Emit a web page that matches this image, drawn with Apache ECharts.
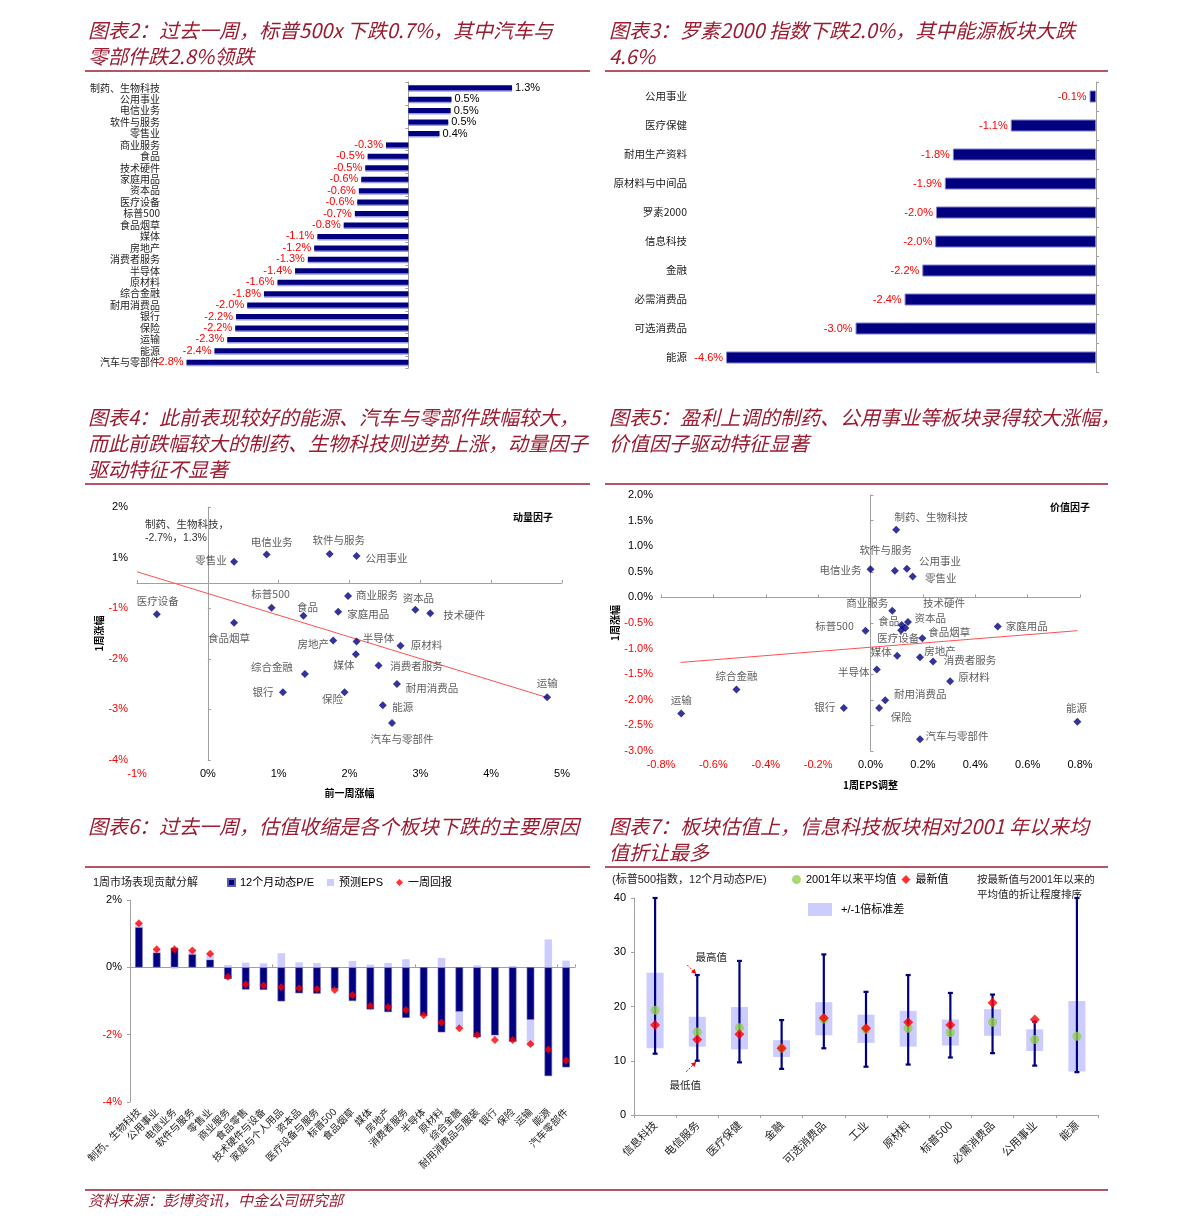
<!DOCTYPE html>
<html><head><meta charset="utf-8">
<script src="https://cdn.jsdelivr.net/npm/echarts@6/dist/echarts.min.js"></script>
<style>html,body{margin:0;padding:0;background:#fff;}#c{width:1191px;height:1231px;}</style>
</head><body><div id="c"></div>
<script>
// ---------- Chart 2 data ----------
const c2Cats = ['制药、生物科技','公用事业','电信业务','软件与服务','零售业','商业服务','食品','技术硬件','家庭用品','资本品','医疗设备','标普500','食品烟草','媒体','房地产','消费者服务','半导体','原材料','综合金融','耐用消费品','银行','保险','运输','能源','汽车与零部件'];
const c2Vals = [1.30,0.54,0.53,0.50,0.39,-0.28,-0.51,-0.54,-0.59,-0.62,-0.64,-0.67,-0.81,-1.14,-1.18,-1.26,-1.42,-1.64,-1.81,-2.02,-2.16,-2.17,-2.27,-2.43,-2.78];
// ---------- Chart 3 data ----------
const c3Cats = ['公用事业','医疗保健','耐用生产资料','原材料与中间品','罗素2000','信息科技','金融','必需消费品','可选消费品','能源'];
const c3Vals = [-0.08,-1.06,-1.78,-1.88,-1.99,-2.00,-2.16,-2.38,-2.99,-4.60];
// ---------- Chart 4 data (momentum) ----------
const c4Names = ['零售业','电信业务','软件与服务','公用事业','医疗设备','食品烟草','标普500','商业服务','食品','家庭用品','资本品','技术硬件','房地产','半导体','原材料','媒体','消费者服务','综合金融','耐用消费品','银行','保险','能源','汽车与零部件','运输'];
const c4X = [0.37,0.83,1.72,2.10,-0.72,0.37,0.90,1.98,1.35,1.84,2.93,3.14,1.77,2.10,2.72,2.09,2.41,1.37,2.67,1.06,1.93,2.47,2.60,4.79];
const c4Y = [0.42,0.56,0.57,0.53,-0.62,-0.79,-0.49,-0.26,-0.65,-0.57,-0.53,-0.60,-1.14,-1.16,-1.24,-1.41,-1.63,-1.80,-2.00,-2.16,-2.16,-2.42,-2.77,-2.26];
const c4Trend = [[-1,0.22],[4.8,-2.27]];
// label placement (layout only)
const c4LabelOff = [[-23,-2],[5,-13],[9,-14],[30,2],[1,-13],[-5,15],[-1,-14],[29,-1],[4,-9],[30,2],[3,-12],[34,2],[-20,3],[22,-4],[26,-1],[-12,11],[38,1],[-33,-7],[35,4],[-20,0],[-12,7],[20,2],[10,16],[0,-14]];
// ---------- Chart 5 data (value) ----------
const c5Names = ['制药、生物科技','电信业务','软件与服务','公用事业','零售业','商业服务','技术硬件','食品','资本品','医疗设备','标普500','家庭用品','食品烟草','媒体','房地产','消费者服务','半导体','原材料','综合金融','运输','耐用消费品','银行','保险','汽车与零部件','能源'];
const c5X = [0.098,0.000,0.093,0.139,0.161,0.083,0.143,0.119,0.133,0.117,-0.019,0.486,0.198,0.102,0.189,0.239,0.024,0.304,-0.512,-0.723,0.056,-0.102,0.033,0.189,0.790];
const c5Y = [1.32,0.55,0.52,0.56,0.41,-0.26,-0.48,-0.54,-0.60,-0.64,-0.65,-0.57,-0.80,-1.14,-1.17,-1.25,-1.41,-1.64,-1.80,-2.27,-2.01,-2.16,-2.16,-2.77,-2.43];
const c5Trend = [[-0.725,-1.27],[0.79,-0.65]];
const c5LabelOff = [[35,-13],[-30,1],[-9,-21],[33,-8],[28,2],[-25,-8],[36,-19],[-13,-4],[25,-10],[-3,8],[-31,-5],[29,-1],[27,-6],[-16,-4],[20,-6],[37,-1],[-23,2],[24,-4],[0,-14],[0,-14],[35,-6],[-19,-1],[22,9],[37,-3],[-1,-14]];
// ---------- Chart 6 data ----------
const c6Cats = ['制药、生物科技','公用事业','电信业务','软件与服务','零售业','商业服务','食品零售','技术硬件与设备','家庭与个人用品','资本品','医疗设备与服务','标普500','食品烟草','媒体','房地产','消费者服务','半导体','原材料','综合金融','耐用消费品与服装','银行','保险','运输','能源','汽车零部件'];
const c6PE  = [1.19,0.44,0.58,0.39,0.23,-0.35,-0.66,-0.67,-1.01,-0.77,-0.78,-0.64,-1.00,-1.25,-1.33,-1.50,-1.44,-1.93,-1.32,-2.08,-2.02,-2.21,-1.56,-3.23,-2.97];
const c6EPS = [0.12,0.11,-0.04,0.13,0.19,0.07,0.14,0.12,0.42,0.15,0.13,-0.03,0.19,0.08,0.13,0.24,0.00,0.28,-0.49,0.06,-0.04,0.04,-0.78,0.83,0.20];
const c6Ret = [1.31,0.54,0.54,0.50,0.40,-0.28,-0.50,-0.54,-0.59,-0.62,-0.64,-0.67,-0.82,-1.15,-1.18,-1.27,-1.42,-1.64,-1.81,-2.01,-2.16,-2.16,-2.28,-2.44,-2.77];
// ---------- Chart 7 data ----------
const c7Cats = ['信息科技','电信服务','医疗保健','金融','可选消费品','工业','原材料','标普500','必需消费品','公用事业','能源'];
const c7Max    = [40,25.8,28.4,17.5,29.6,22.7,25.8,22.5,22.2,17.2,40];
const c7Min    = [11.3,10.0,9.7,8.5,12.3,8.9,9.3,10.6,11.4,9.1,7.9];
const c7SdHigh = [26.2,18.1,19.9,13.8,20.8,18.5,19.2,17.6,19.5,15.8,21.0];
const c7SdLow  = [12.3,12.6,12.1,10.7,14.7,13.3,12.6,12.8,14.6,11.8,8.0];
const c7Mean   = [19.3,15.3,16.1,12.3,17.7,15.8,16.0,15.2,17.1,13.9,14.5];
const c7Latest = [16.6,13.9,14.9,12.3,17.9,16.0,17.1,16.6,20.7,17.6,null];

const titles = [
  {text:'图表2：过去一周，标普500x 下跌0.7%，其中汽车与\n零部件跌2.8%领跌', left:88, top:17},
  {text:'图表3：罗素2000 指数下跌2.0%，其中能源板块大跌\n4.6%', left:609, top:17},
  {text:'图表4：此前表现较好的能源、汽车与零部件跌幅较大，\n而此前跌幅较大的制药、生物科技则逆势上涨，动量因子\n驱动特征不显著', left:88, top:404},
  {text:'图表5：盈利上调的制药、公用事业等板块录得较大涨幅，\n价值因子驱动特征显著', left:609, top:404},
  {text:'图表6：过去一周，估值收缩是各个板块下跌的主要原因', left:88, top:813},
  {text:'图表7：板块估值上，信息科技板块相对2001 年以来均\n值折让最多', left:609, top:813}
];
const sourceText = '资料来源：彭博资讯，中金公司研究部';

// ---------- styles ----------
const FONT = "'Liberation Sans', Arial, 'Noto Sans CJK SC', sans-serif";
const CJK = "'Noto Sans CJK SC', sans-serif";
const RED = '#ff0000', NAVY = '#000080', AX = '#a0a0a0', TITLE = '#9B1B30';
const negRed = v => (parseFloat(v) < 0 ? RED : '#000');

const chart = echarts.init(document.getElementById('c'));

const titleOpts = titles.map(t => ({
  text: t.text, left: t.left, top: t.top, padding: 0,
  textStyle: {fontFamily: CJK, fontStyle: 'italic', fontWeight: 'normal', fontSize: 20, color: TITLE, lineHeight: 26}
}));
titleOpts.push({text: sourceText, left: 88, top: 1193, padding: 0,
  textStyle: {fontFamily: CJK, fontStyle: 'italic', fontWeight: 'normal', fontSize: 15, color: TITLE}});

const hide = {show: false};
const catLabel = (fs) => ({fontSize: fs, color: '#222', fontFamily: CJK});

const option = {
  animation: false,
  backgroundColor: '#fff',
  textStyle: {fontFamily: FONT},
  title: titleOpts,
  grid: [
    {left: 169, top: 82, width: 367, height: 286},
    {left: 710, top: 82, width: 386, height: 290},
    {left: 137, top: 507, width: 425, height: 253},
    {left: 661, top: 495, width: 419, height: 256},
    {left: 130, top: 900, width: 445, height: 202},
    {left: 634, top: 898, width: 464, height: 217}
  ],
  xAxis: [
    {gridIndex: 0, type: 'value', min: -3, max: 1.6, show: false},
    {gridIndex: 1, type: 'value', min: -4.8, max: 0, show: false},
    // chart 4: label axis + zero line axis
    {gridIndex: 2, type: 'value', min: -1, max: 5, interval: 1, position: 'bottom',
     axisLine: {show: false, onZero: false}, axisTick: hide, splitLine: hide,
     axisLabel: {fontSize: 11, margin: 8, formatter: v => v + '%', color: negRed},
     name: '前一周涨幅', nameLocation: 'middle', nameGap: 28,
     nameTextStyle: {fontWeight: 'bold', fontSize: 10, color: '#000', fontFamily: CJK}},
    {gridIndex: 2, type: 'value', min: -1, max: 5, interval: 1,
     axisLine: {show: true, onZero: true, lineStyle: {color: AX}}, axisTick: {show: true, length: 3, lineStyle: {color: AX}},
     axisLabel: hide, splitLine: hide},
    // chart 5
    {gridIndex: 3, type: 'value', min: -0.8, max: 0.8, interval: 0.2, position: 'bottom',
     axisLine: {show: false, onZero: false}, axisTick: hide, splitLine: hide,
     axisLabel: {fontSize: 11, margin: 8, formatter: v => Number(v).toFixed(1) + '%', color: negRed},
     name: '1周EPS调整', nameLocation: 'middle', nameGap: 29,
     nameTextStyle: {fontWeight: 'bold', fontSize: 10, color: '#000', fontFamily: CJK}},
    {gridIndex: 3, type: 'value', min: -0.8, max: 0.8, interval: 0.2,
     axisLine: {show: true, onZero: true, lineStyle: {color: AX}}, axisTick: {show: true, length: 3, lineStyle: {color: AX}},
     axisLabel: hide, splitLine: hide},
    // chart 6
    {gridIndex: 4, type: 'category', data: c6Cats, position: 'bottom',
     axisLine: {show: false, onZero: false}, axisTick: hide,
     axisLabel: {rotate: 45, fontSize: 10, margin: 8, interval: 0, color: '#222', fontFamily: CJK}},
    {gridIndex: 4, type: 'category', data: c6Cats,
     axisLine: {show: true, onZero: true, lineStyle: {color: AX}}, axisTick: {show: true, length: 3, lineStyle: {color: AX}},
     axisLabel: hide},
    // chart 7
    {gridIndex: 5, type: 'category', data: c7Cats,
     axisLine: {show: true, lineStyle: {color: AX}}, axisTick: {show: true, length: 3, lineStyle: {color: AX}},
     axisLabel: {rotate: 45, fontSize: 11, margin: 8, interval: 0, color: '#222', fontFamily: CJK}}
  ],
  yAxis: [
    {gridIndex: 0, type: 'category', data: c2Cats, inverse: true,
     axisLine: {show: false, onZero: false}, axisTick: hide, axisLabel: Object.assign({margin: 9, interval: 0}, catLabel(10))},
    {gridIndex: 0, type: 'category', data: c2Cats, inverse: true,
     axisLine: {show: true, onZero: true, lineStyle: {color: AX}}, axisTick: {show: true, inside: true, length: 3, lineStyle: {color: AX}},
     axisLabel: hide},
    {gridIndex: 1, type: 'category', data: c3Cats, inverse: true, position: 'left',
     axisLine: {show: false, onZero: false}, axisTick: hide, axisLabel: Object.assign({margin: 23, interval: 0}, catLabel(10.5))},
    {gridIndex: 1, type: 'category', data: c3Cats, inverse: true, position: 'right',
     axisLine: {show: true, onZero: false, lineStyle: {color: AX}}, axisTick: {show: true, length: 3, lineStyle: {color: AX}},
     axisLabel: hide},
    // chart 4
    {gridIndex: 2, type: 'value', min: -3.5, max: 1.5, interval: 1, position: 'left',
     axisLine: {show: false, onZero: false}, axisTick: hide, splitLine: hide,
     axisLabel: {fontSize: 11, margin: 9, color: negRed,
       formatter: v => (v < 0 ? '-' : '') + Math.round(Math.abs(v)) + '%'},
     name: '1周涨幅', nameLocation: 'middle', nameGap: 33, nameRotate: 90,
     nameTextStyle: {fontWeight: 'bold', fontSize: 10, color: '#000', fontFamily: CJK}},
    {gridIndex: 2, type: 'value', min: -3.5, max: 1.5, interval: 1,
     axisLine: {show: true, onZero: true, lineStyle: {color: AX}}, axisTick: {show: true, length: 3, lineStyle: {color: AX}},
     axisLabel: hide, splitLine: hide},
    // chart 5
    {gridIndex: 3, type: 'value', min: -3, max: 2, interval: 0.5, position: 'left',
     axisLine: {show: false, onZero: false}, axisTick: hide, splitLine: hide,
     axisLabel: {fontSize: 11, margin: 8, color: negRed, formatter: v => Number(v).toFixed(1) + '%'},
     name: '1周涨幅', nameLocation: 'middle', nameGap: 41, nameRotate: 90,
     nameTextStyle: {fontWeight: 'bold', fontSize: 10, color: '#000', fontFamily: CJK}},
    {gridIndex: 3, type: 'value', min: -3, max: 2, interval: 0.5,
     axisLine: {show: true, onZero: true, lineStyle: {color: AX}}, axisTick: {show: true, length: 3, lineStyle: {color: AX}},
     axisLabel: hide, splitLine: hide},
    // chart 6
    {gridIndex: 4, type: 'value', min: -4, max: 2, interval: 2,
     axisLine: {show: true, lineStyle: {color: AX}}, axisTick: {show: true, length: 3, lineStyle: {color: AX}},
     splitLine: hide, axisLabel: {fontSize: 11, margin: 8, color: negRed, formatter: v => v + '%'}},
    // chart 7
    {gridIndex: 5, type: 'value', min: 0, max: 40, interval: 10,
     axisLine: {show: true, lineStyle: {color: AX}}, axisTick: {show: true, length: 3, lineStyle: {color: AX}},
     splitLine: hide, axisLabel: {fontSize: 11, margin: 8, color: '#000'}}
  ],
  legend: [
    {left: 227, top: 877, itemWidth: 7, itemHeight: 7, itemGap: 13, padding: 0, selectedMode: false,
     textStyle: {fontSize: 11, color: '#000', fontFamily: FONT},
     data: [{name: '12个月动态P/E', icon: 'rect'}, {name: '预测EPS', icon: 'rect'}, {name: '一周回报', icon: 'diamond'}]},
    {left: 792, top: 874, itemWidth: 9, itemHeight: 9, itemGap: 5, padding: 0, selectedMode: false,
     textStyle: {fontSize: 11, color: '#000', fontFamily: FONT},
     data: [{name: '2001年以来平均值', icon: 'circle'}, {name: '最新值', icon: 'diamond'}]},
    {left: 808, top: 903, itemWidth: 24, itemHeight: 13, padding: 0, selectedMode: false,
     textStyle: {fontSize: 11, color: '#000', fontFamily: FONT, padding: [0, 0, 0, 4]},
     data: [{name: '+/-1倍标准差', icon: 'rect'}]}
  ],
  series: [
    {type: 'bar', xAxisIndex: 0, yAxisIndex: 0, barWidth: 5,
     itemStyle: {color: NAVY, shadowColor: 'rgba(110,110,210,0.7)', shadowOffsetY: 1.5},
     data: c2Vals.map(v => ({value: v, label: {position: v >= 0 ? 'right' : 'left', color: v >= 0 ? '#000' : RED}})),
     label: {show: true, fontSize: 11, distance: 3, fontFamily: FONT, formatter: p => p.value.toFixed(1) + '%'}},
    {type: 'bar', xAxisIndex: 1, yAxisIndex: 2, barWidth: 12,
     itemStyle: {color: NAVY, borderColor: '#8080cc', borderWidth: 1},
     data: c3Vals,
     label: {show: true, position: 'left', color: RED, fontSize: 11, distance: 3, fontFamily: FONT,
       formatter: p => p.value.toFixed(1) + '%'}},
    {type: 'scatter', xAxisIndex: 2, yAxisIndex: 4, symbol: 'diamond', symbolSize: 8,
     itemStyle: {color: NAVY}, z: 5,
     data: c4Names.map((n, i) => ({name: n, value: [c4X[i], c4Y[i]],
       label: {offset: c4LabelOff[i]}})),
     label: {show: true, position: 'inside', formatter: p => p.name, color: '#333', fontSize: 10.5, fontFamily: CJK}},
    {type: 'line', xAxisIndex: 2, yAxisIndex: 4, data: c4Trend, symbol: 'none',
     lineStyle: {color: '#ff5050', width: 1}, z: 3},
    {type: 'scatter', xAxisIndex: 4, yAxisIndex: 6, symbol: 'diamond', symbolSize: 8,
     itemStyle: {color: NAVY}, z: 5,
     data: c5Names.map((n, i) => ({name: n, value: [c5X[i], c5Y[i]],
       label: {offset: c5LabelOff[i]}})),
     label: {show: true, position: 'inside', formatter: p => p.name, color: '#333', fontSize: 10.5, fontFamily: CJK}},
    {type: 'line', xAxisIndex: 4, yAxisIndex: 6, data: c5Trend, symbol: 'none',
     lineStyle: {color: '#ff5050', width: 1}, z: 3},
    {name: '12个月动态P/E', type: 'bar', xAxisIndex: 6, yAxisIndex: 8, stack: 'c6', barWidth: 7.5,
     itemStyle: {color: NAVY, borderColor: '#5c5cae', borderWidth: 0.6}, data: c6PE},
    {name: '预测EPS', type: 'bar', xAxisIndex: 6, yAxisIndex: 8, stack: 'c6', barWidth: 7.5,
     itemStyle: {color: '#ccccff'}, data: c6EPS},
    {name: '一周回报', type: 'scatter', xAxisIndex: 6, yAxisIndex: 8, symbol: 'diamond', symbolSize: 8,
     itemStyle: {color: RED}, data: c6Ret, z: 5},
    {name: 'sdBase', type: 'bar', xAxisIndex: 8, yAxisIndex: 9, stack: 'c7', barWidth: 17,
     itemStyle: {color: 'rgba(0,0,0,0)'}, data: c7SdLow, silent: true},
    {name: '+/-1倍标准差', type: 'bar', xAxisIndex: 8, yAxisIndex: 9, stack: 'c7', barWidth: 17,
     itemStyle: {color: '#ccccff'}, data: c7SdHigh.map((h, i) => +(h - c7SdLow[i]).toFixed(2))},
    {name: 'range', type: 'custom', xAxisIndex: 8, yAxisIndex: 9, z: 4,
     data: c7Cats.map((c, i) => [i, c7Min[i], c7Max[i]]),
     encode: {x: 0, y: [1, 2]},
     renderItem: function (params, api) {
       const i = api.value(0);
       const lo = api.coord([i, api.value(1)]);
       const hi = api.coord([i, api.value(2)]);
       const s = {stroke: NAVY, lineWidth: 2.2};
       return {type: 'group', children: [
         {type: 'line', shape: {x1: lo[0], y1: lo[1], x2: hi[0], y2: hi[1]}, style: s},
         {type: 'line', shape: {x1: lo[0] - 2.5, y1: lo[1], x2: lo[0] + 2.5, y2: lo[1]}, style: s},
         {type: 'line', shape: {x1: hi[0] - 2.5, y1: hi[1], x2: hi[0] + 2.5, y2: hi[1]}, style: s}
       ]};
     }},
    {name: '2001年以来平均值', type: 'scatter', xAxisIndex: 8, yAxisIndex: 9, symbol: 'circle', symbolSize: 9,
     itemStyle: {color: '#92D050'}, data: c7Mean, z: 5},
    {name: '最新值', type: 'scatter', xAxisIndex: 8, yAxisIndex: 9, symbol: 'diamond', symbolSize: 10,
     itemStyle: {color: RED}, data: c7Latest, z: 6}
  ],
  graphic: [
    {type: 'line', shape: {x1: 85, y1: 71, x2: 590, y2: 71}, style: {stroke: TITLE, lineWidth: 1.5}},
    {type: 'line', shape: {x1: 605, y1: 71, x2: 1108, y2: 71}, style: {stroke: TITLE, lineWidth: 1.5}},
    {type: 'line', shape: {x1: 85, y1: 484, x2: 590, y2: 484}, style: {stroke: TITLE, lineWidth: 1.5}},
    {type: 'line', shape: {x1: 605, y1: 484, x2: 1108, y2: 484}, style: {stroke: TITLE, lineWidth: 1.5}},
    {type: 'line', shape: {x1: 85, y1: 867, x2: 590, y2: 867}, style: {stroke: TITLE, lineWidth: 1.5}},
    {type: 'line', shape: {x1: 605, y1: 867, x2: 1108, y2: 867}, style: {stroke: TITLE, lineWidth: 1.5}},
    {type: 'line', shape: {x1: 85, y1: 1190, x2: 1108, y2: 1190}, style: {stroke: TITLE, lineWidth: 1.5}},
    {type: 'text', x: 145, y: 524, style: {text: '制药、生物科技，', fontSize: 10.5, fontFamily: CJK, fill: '#333', verticalAlign: 'middle'}},
    {type: 'text', x: 145, y: 538, style: {text: '-2.7%，1.3%', fontSize: 10.5, fontFamily: FONT, fill: '#333', verticalAlign: 'middle'}},
    {type: 'text', x: 533, y: 517, style: {text: '动量因子', fontSize: 10, fontWeight: 'bold', fontFamily: CJK, fill: '#000', align: 'center', verticalAlign: 'middle'}},
    {type: 'text', x: 1070, y: 507, style: {text: '价值因子', fontSize: 10, fontWeight: 'bold', fontFamily: CJK, fill: '#000', align: 'center', verticalAlign: 'middle'}},
    {type: 'text', x: 93, y: 883, style: {text: '1周市场表现贡献分解', fontSize: 11, fontFamily: FONT, fill: '#222', verticalAlign: 'middle'}},
    {type: 'text', x: 612, y: 880, style: {text: '(标普500指数，12个月动态P/E)', fontSize: 11, fontFamily: FONT, fill: '#222', verticalAlign: 'middle'}},
    {type: 'text', x: 977, y: 880, style: {text: '按最新值与2001年以来的', fontSize: 10.5, fontFamily: FONT, fill: '#222', verticalAlign: 'middle'}},
    {type: 'text', x: 977, y: 895, style: {text: '平均值的折让程度排序', fontSize: 10.5, fontFamily: FONT, fill: '#222', verticalAlign: 'middle'}}
  ]
};
chart.setOption(option);

// annotation arrows for chart 7 (highest / lowest of 电信服务)
(function () {
  const top = chart.convertToPixel({gridIndex: 5}, [1, c7Max[1]]);
  const bot = chart.convertToPixel({gridIndex: 5}, [1, c7Min[1]]);
  function arrow(x1, y1, x2, y2) {
    const dx = x2 - x1, dy = y2 - y1, L = Math.sqrt(dx * dx + dy * dy), ux = dx / L, uy = dy / L;
    const hl = 5, hw = 2.5;
    return [
      {type: 'line', shape: {x1: x1, y1: y1, x2: x2 - ux * 3, y2: y2 - uy * 3}, style: {stroke: RED, lineWidth: 1, lineDash: [2, 1.5]}},
      {type: 'polygon', shape: {points: [[x2, y2], [x2 - ux * hl - uy * hw, y2 - uy * hl + ux * hw], [x2 - ux * hl + uy * hw, y2 - uy * hl - ux * hw]]}, style: {fill: RED}}
    ];
  }
  const g = option.graphic.slice();
  arrow(top[0] - 10, top[1] - 10, top[0] - 1, top[1] - 1).forEach(e => g.push(e));
  arrow(bot[0] - 11, bot[1] + 11, bot[0] - 1, bot[1] + 1).forEach(e => g.push(e));
  g.push({type: 'text', x: top[0] + 14, y: top[1] - 18, style: {text: '最高值', fontSize: 10.5, fontFamily: CJK, fill: '#222', align: 'center', verticalAlign: 'middle'}});
  g.push({type: 'text', x: bot[0] - 12, y: bot[1] + 24, style: {text: '最低值', fontSize: 10.5, fontFamily: CJK, fill: '#222', align: 'center', verticalAlign: 'middle'}});
  chart.setOption({graphic: g}, {replaceMerge: ['graphic']});
})();
</script></body></html>
